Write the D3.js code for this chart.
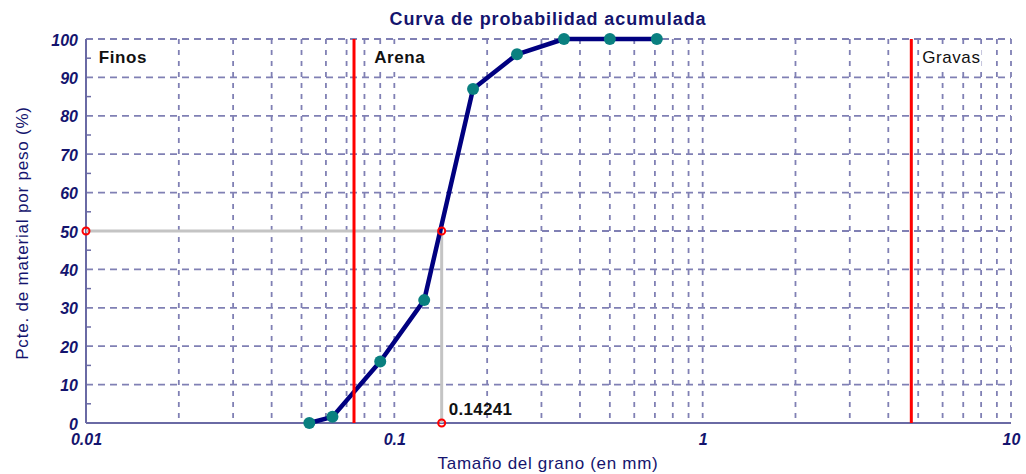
<!DOCTYPE html>
<html><head><meta charset="utf-8">
<script src="https://cdn.jsdelivr.net/npm/d3@7"></script>
<style>body{margin:0;background:#fff}svg{display:block}</style>
</head><body>
<svg id="c" width="1026" height="474"></svg>
<script>
// ---- data ----
const sizes   = [0.053, 0.063, 0.09, 0.125, 0.18, 0.25, 0.355, 0.5, 0.71]; // mm
const passing = [0, 1.6, 16, 32, 87, 96, 100, 100, 100];                   // %
const yTicks = [0, 10, 20, 30, 40, 50, 60, 70, 80, 90, 100];
const xTickValues = [0.01, 0.1, 1, 10];
const xTickLabels = ["0.01", "0.1", "1", "10"];
const zoneLimits = [0.074, 4.75];
const zoneLabels = ["Finos", "Arena", "Gravas"];
const zoneLabelAt = [0.011, 0.086, 5.15];
const d50 = 0.14241;
const d50Pct = 50;
const title = "Curva de probabilidad acumulada";
const xTitle = "Tamaño del grano (en mm)";
const yTitle = "Pcte. de material por peso (%)";

// ---- chart ----
const svg = d3.select("#c");
const L = 86, R = 1011, T = 39, B = 423;
const x = d3.scaleLog().domain([0.01, 10]).range([L, R]);
const y = d3.scaleLinear().domain([0, 100]).range([B, T]);
const navy = "#14146e", gridC = "#8080b4", axisC = "#6a6aa4";

// vertical grid (2..10 per decade)
const vGrid = [];
[0.01, 0.1, 1].forEach(d => { for (let k = 2; k <= 10; k++) vGrid.push(+(d * k).toPrecision(3)); });
svg.append("g").selectAll("line").data(vGrid).join("line")
  .attr("x1", d => x(d)).attr("x2", d => x(d)).attr("y1", T).attr("y2", B)
  .attr("stroke", gridC).attr("stroke-width", 1.8).attr("stroke-dasharray", "5,6");
// horizontal grid
svg.append("g").selectAll("line").data(yTicks.filter(v => v > 0)).join("line")
  .attr("x1", L).attr("x2", R).attr("y1", d => y(d)).attr("y2", d => y(d))
  .attr("stroke", gridC).attr("stroke-width", 1.8).attr("stroke-dasharray", "7,5");

// axes lines
svg.append("line").attr("x1", L).attr("x2", L).attr("y1", T).attr("y2", B).attr("stroke", axisC).attr("stroke-width", 2);
svg.append("line").attr("x1", L).attr("x2", R).attr("y1", B).attr("y2", B).attr("stroke", axisC).attr("stroke-width", 2);
// minor y ticks
svg.append("g").selectAll("line").data(yTicks.slice(0, -1).map(v => v + 5)).join("line")
  .attr("x1", L).attr("x2", L + 5).attr("y1", d => y(d)).attr("y2", d => y(d))
  .attr("stroke", axisC).attr("stroke-width", 1.5);

// y tick labels via axis
const ya = svg.append("g").attr("transform", `translate(${L - 6},0)`)
  .call(d3.axisLeft(y).tickValues(yTicks).tickSize(0).tickPadding(2));
ya.select(".domain").remove();
ya.selectAll("text").attr("fill", navy).style("font", "italic bold 16px 'Liberation Sans', Arial, sans-serif").attr("dy", "0.38em");

// x tick labels via axis
const xa = svg.append("g").attr("transform", `translate(0,${B + 11})`)
  .call(d3.axisBottom(x).tickValues(xTickValues).tickFormat((d, i) => xTickLabels[i]).tickSize(0).tickPadding(0));
xa.select(".domain").remove();
xa.selectAll("text").attr("fill", navy).attr("dy", "0.71em").style("font", "italic bold 16px 'Liberation Sans', Arial, sans-serif");

// d50 guide lines
svg.append("path")
  .attr("d", `M${x(0.01)},${y(d50Pct)}H${x(d50)}V${y(0)}`)
  .attr("fill", "none").attr("stroke", "#c4c4c4").attr("stroke-width", 3);

// curve
const pts = sizes.map((s, i) => [s, passing[i]]);
svg.append("path").datum(pts)
  .attr("d", d3.line().x(d => x(d[0])).y(d => y(d[1])))
  .attr("fill", "none").attr("stroke", "#000080").attr("stroke-width", 4.5).attr("stroke-linejoin", "round");
svg.append("g").selectAll("circle").data(pts).join("circle")
  .attr("cx", d => x(d[0])).attr("cy", d => y(d[1])).attr("r", 6).attr("fill", "#0a8080");

// zone limits
svg.append("g").selectAll("line").data(zoneLimits).join("line")
  .attr("x1", d => x(d)).attr("x2", d => x(d)).attr("y1", T).attr("y2", B)
  .attr("stroke", "#ff0000").attr("stroke-width", 3);

// d50 markers
svg.append("g").selectAll("circle").data([[0.01, d50Pct], [d50, d50Pct], [d50, 0]]).join("circle")
  .attr("cx", d => x(d[0])).attr("cy", d => y(d[1])).attr("r", 3.5)
  .attr("fill", "none").attr("stroke", "#ff0000").attr("stroke-width", 2);

// zone labels (with white backing like the reference)
const zl = svg.append("g");
zoneLabels.forEach((lab, i) => {
  const g = zl.append("g");
  const rect = g.append("rect").attr("fill", "#fff");
  const t = g.append("text").attr("x", x(zoneLabelAt[i])).attr("y", 63)
    .attr("fill", "#111")
    .style("font-family", "'Liberation Sans', Arial, sans-serif")
    .style("font-size", "17px")
    .style("font-weight", i < 2 ? "bold" : "normal")
    .style("letter-spacing", "0.6px")
    .text(lab);
  const bb = t.node().getBBox();
  rect.attr("x", bb.x - 1).attr("y", bb.y + 1).attr("width", bb.width + 2).attr("height", bb.height - 2);
});

// d50 label
svg.append("text").attr("x", x(d50) + 7).attr("y", y(0) - 8)
  .attr("fill", "#111").style("font", "bold 17px 'Liberation Sans', Arial, sans-serif")
  .style("letter-spacing", "0.3px")
  .text(d50.toString());

// titles
svg.append("text").attr("x", 548).attr("y", 25).attr("text-anchor", "middle")
  .attr("fill", navy).style("font", "bold 18px 'Liberation Sans', Arial, sans-serif").style("letter-spacing", "0.9px")
  .text(title);
svg.append("text").attr("x", 548).attr("y", 469).attr("text-anchor", "middle")
  .attr("fill", navy).style("font", "17px 'Liberation Sans', Arial, sans-serif").style("letter-spacing", "0.7px")
  .text(xTitle);
svg.append("text").attr("transform", "translate(28,233) rotate(-90)").attr("text-anchor", "middle")
  .attr("fill", navy).style("font", "17px 'Liberation Sans', Arial, sans-serif").style("letter-spacing", "0.8px")
  .text(yTitle);
</script>
</body></html>
